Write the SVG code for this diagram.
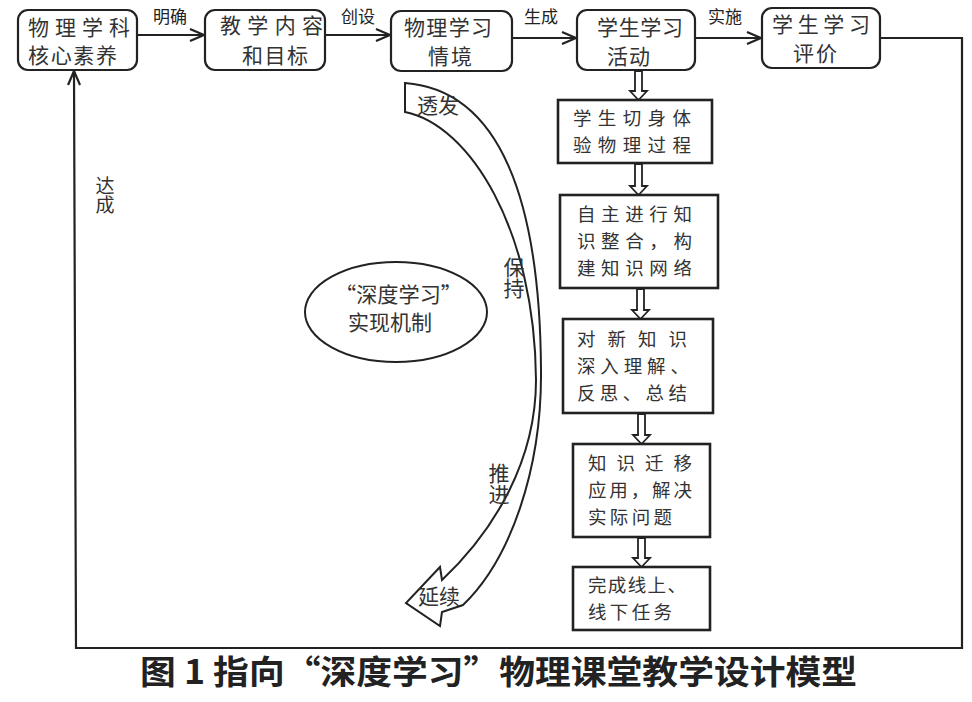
<svg xmlns="http://www.w3.org/2000/svg" width="972" height="702" viewBox="0 0 972 702">
<defs>
<style>
.rb{fill:#fff;stroke:#222;stroke-width:2.2}
.sb{fill:#fff;stroke:#222;stroke-width:2.6}
.t{font-family:"Noto Sans CJK SC","Noto Sans",sans-serif;font-size:21px;fill:#333}
.s{font-family:"Noto Sans CJK SC","Noto Sans",sans-serif;font-size:18.5px;fill:#333}
.v{font-family:"Noto Sans CJK SC","Noto Sans",sans-serif;font-size:20px;fill:#333;writing-mode:tb}
.lb{font-family:"Noto Sans CJK SC","Noto Sans",sans-serif;font-size:17px;fill:#222}
.ln{fill:none;stroke:#222;stroke-width:2.2}
.ha{fill:#fff;stroke:#222;stroke-width:1.8;stroke-linejoin:miter}
</style>
<marker id="ar" viewBox="0 0 16 14" refX="15" refY="7" markerWidth="16" markerHeight="14" markerUnits="userSpaceOnUse" orient="auto">
<path d="M1,1 L15,7 L1,13" fill="none" stroke="#222" stroke-width="2.2"/>
</marker>
</defs>
<rect width="972" height="702" fill="#fff"/>

<g id="connectors">
<line class="ln" x1="137" y1="35" x2="204" y2="35" marker-end="url(#ar)"/>
<line class="ln" x1="325" y1="35" x2="390" y2="35" marker-end="url(#ar)"/>
<line class="ln" x1="512" y1="38" x2="576" y2="38" marker-end="url(#ar)"/>
<line class="ln" x1="695" y1="38" x2="761" y2="38" marker-end="url(#ar)"/>
<polyline class="ln" points="880,38 962,38 962,648 76,648 74,71" marker-end="url(#ar)"/>
<text class="lb" x="153" y="23">明确</text>
<text class="lb" x="341" y="23">创设</text>
<text class="lb" x="524" y="23">生成</text>
<text class="lb" x="708" y="23">实施</text>
<text class="v" x="105" y="176" style="font-size:19px">达成</text>
<path class="ha" d="M635,71 V91 H630 L638.5,100 L647,91 H642 V71 Z"/>
<path class="ha" d="M635,164 V186 H630 L638.5,195 L647,186 H642 V164 Z"/>
<path class="ha" d="M637,289 V310 H632 L640.5,319 L649,310 H644 V289 Z"/>
<path class="ha" d="M638,414 V435 H633 L641.5,444 L650,435 H645 V414 Z"/>
<path class="ha" d="M638,538 V558 H633 L641.5,567 L650,558 H645 V538 Z"/>
</g>

<g id="curve-arrow">
<path fill="#fff" stroke="#222" stroke-width="2" stroke-linejoin="miter" d="M405,83 C500,90 540,200 541,370 C542,470 510,560 463,605 L442,612 L440,626 L406,603 L440,567 L442,580 C495,530 536,460 536,380 C535,230 470,125 405,112 Z"/>
<text class="t" x="417" y="113">透发</text>
<text class="v" x="514" y="257" style="font-size:21px">保持</text>
<text class="v" x="499" y="463" style="font-size:21px">推进</text>
<text class="t" x="418" y="604">延续</text>
</g>

<g id="n-ellipse">
<ellipse cx="396" cy="312" rx="91" ry="50" fill="#fff" stroke="#222" stroke-width="2"/>
<text class="t"><tspan x="335" y="302" textLength="127" lengthAdjust="spacingAndGlyphs">“深度学习”</tspan><tspan x="348" y="330">实现机制</tspan></text>
</g>

<g id="n1">
<rect class="rb" x="18" y="10" width="119" height="60" rx="10"/>
<text class="t"><tspan x="28" y="35" textLength="102">物理学科</tspan><tspan x="28" y="63" textLength="89">核心素养</tspan></text>
</g>
<g id="n2">
<rect class="rb" x="205" y="10" width="120" height="60" rx="10"/>
<text class="t"><tspan x="220" y="33" textLength="103">教学内容</tspan><tspan x="242" y="63" textLength="66">和目标</tspan></text>
</g>
<g id="n3">
<rect class="rb" x="391" y="11" width="121" height="60" rx="10"/>
<text class="t"><tspan x="404" y="35" textLength="88">物理学习</tspan><tspan x="428" y="64" textLength="44">情境</tspan></text>
</g>
<g id="n4">
<rect class="rb" x="577" y="10" width="118" height="60" rx="10"/>
<text class="t"><tspan x="597" y="35" textLength="86">学生学习</tspan><tspan x="607" y="64" textLength="43">活动</tspan></text>
</g>
<g id="n5">
<rect class="rb" x="762" y="8" width="118" height="60" rx="10"/>
<text class="t"><tspan x="772" y="32" textLength="98">学生学习</tspan><tspan x="793" y="61" textLength="44">评价</tspan></text>
</g>

<g id="s1">
<rect class="sb" x="558" y="100" width="154" height="63"/>
<text class="s"><tspan x="573" y="125" textLength="118">学生切身体</tspan><tspan x="573" y="152" textLength="118">验物理过程</tspan></text>
</g>
<g id="s2">
<rect class="sb" x="560" y="195" width="158" height="93"/>
<text class="s"><tspan x="577" y="220.5" textLength="115">自主进行知</tspan><tspan x="577" y="247.5" textLength="115">识整合，构</tspan><tspan x="577" y="274.5" textLength="115">建知识网络</tspan></text>
</g>
<g id="s3">
<rect class="sb" x="563" y="319" width="150" height="94"/>
<text class="s"><tspan x="577" y="345.5" textLength="110">对 新 知 识</tspan><tspan x="577" y="372.5" textLength="112">深入理解、</tspan><tspan x="577" y="399.5" textLength="110">反思、总结</tspan></text>
</g>
<g id="s4">
<rect class="sb" x="573" y="444" width="137" height="93"/>
<text class="s"><tspan x="588" y="469.5" textLength="104">知 识 迁 移</tspan><tspan x="588" y="496.5" textLength="104">应用，解决</tspan><tspan x="588" y="523.5" textLength="84">实际问题</tspan></text>
</g>
<g id="s5">
<rect class="sb" x="573" y="567" width="137" height="63"/>
<text class="s"><tspan x="588" y="591.5" textLength="98">完成线上、</tspan><tspan x="588" y="618.5" textLength="84">线下任务</tspan></text>
</g>

<text x="140" y="684" textLength="717" lengthAdjust="spacingAndGlyphs" style="font-family:'Noto Sans CJK SC','Noto Sans',sans-serif;font-size:33px;font-weight:bold;fill:#222">图 1  指向“深度学习”物理课堂教学设计模型</text>
</svg>
